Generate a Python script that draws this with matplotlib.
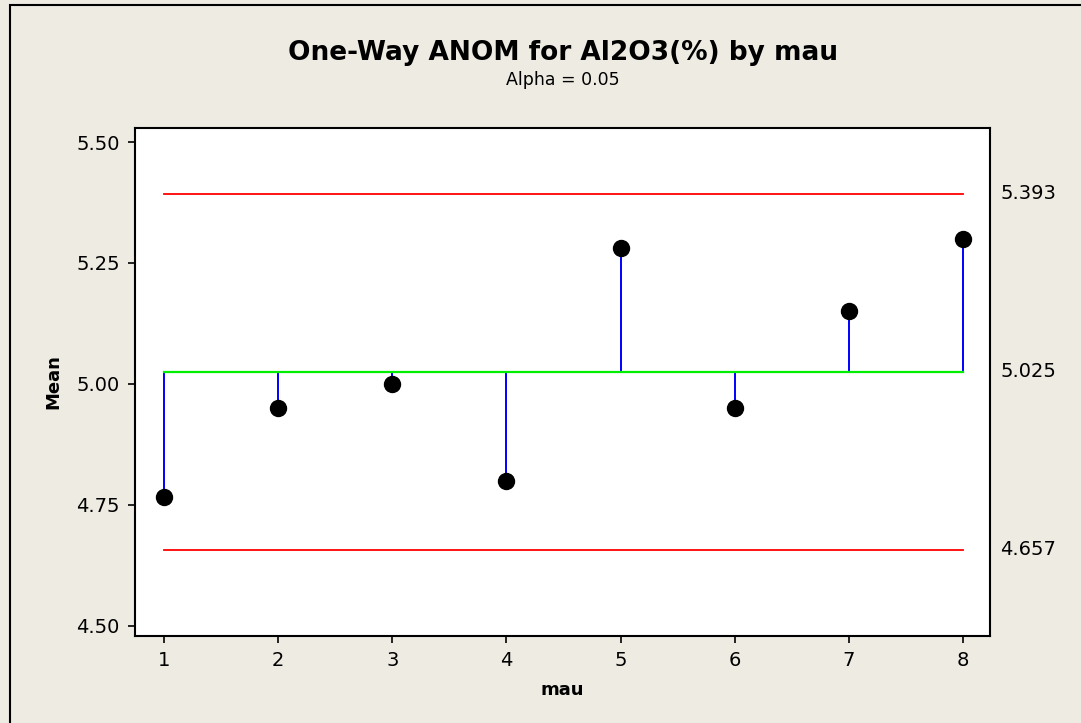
import matplotlib.pyplot as plt
from matplotlib.patches import Rectangle
import matplotlib.transforms as mtransforms

# ANOM data: group means of Al2O3(%) by mau
groups = [1, 2, 3, 4, 5, 6, 7, 8]
means = [4.767, 4.95, 5.00, 4.80, 5.28, 4.95, 5.15, 5.30]
center = 5.025
udl = 5.393
ldl = 4.657

bg = '#eeebe2'
fig = plt.figure(figsize=(10.81, 7.23), dpi=100, facecolor=bg)
ax = fig.add_axes([135 / 1081, 87 / 723, 855 / 1081, 508 / 723])
ax.set_facecolor('white')

# decision limits and center line
ax.plot([groups[0], groups[-1]], [udl, udl], color='red', lw=1.3)
ax.plot([groups[0], groups[-1]], [ldl, ldl], color='red', lw=1.3)
ax.plot([groups[0], groups[-1]], [center, center], color='#00ee00', lw=1.6, zorder=2)

# stems from the center line to each mean
ax.vlines(groups, center, means, color='blue', lw=1.4, zorder=1)
ax.plot(groups, means, 'o', color='black', ms=11.5, zorder=3)

ax.set_xlim(0.746, 8.237)
ax.set_ylim(4.479, 5.529)
ax.set_xticks(groups)
ax.set_yticks([4.50, 4.75, 5.00, 5.25, 5.50])
ax.set_yticklabels(['4.50', '4.75', '5.00', '5.25', '5.50'])
ax.tick_params(direction='out', length=5, width=1.2, labelsize=14, pad=6)
for s in ax.spines.values():
    s.set_linewidth(1.5)

ax.set_xlabel('mau', fontsize=13, fontweight='bold', labelpad=8)
ax.set_ylabel('Mean', fontsize=13, fontweight='bold', labelpad=10)

# limit labels to the right of the plot
trans = mtransforms.blended_transform_factory(ax.transAxes, ax.transData)
for v in [udl, center, ldl]:
    ax.text(1.012, v, '%.3f' % v, transform=trans, fontsize=14, va='center', ha='left')

fig.text(0.521, 0.927, 'One-Way ANOM for Al2O3(%) by mau', ha='center', va='center',
         fontsize=19, fontweight='bold')
fig.text(0.521, 0.889, 'Alpha = 0.05', ha='center', va='center', fontsize=12.5)

# frame on left and top edges of the figure
fig.patches.append(Rectangle((10 / 1081, -0.1), 1.2, (723 - 5) / 723 + 0.1,
                             transform=fig.transFigure, fill=False,
                             edgecolor='black', lw=1.5))

fig.savefig('out.png', dpi=100, facecolor=bg)
